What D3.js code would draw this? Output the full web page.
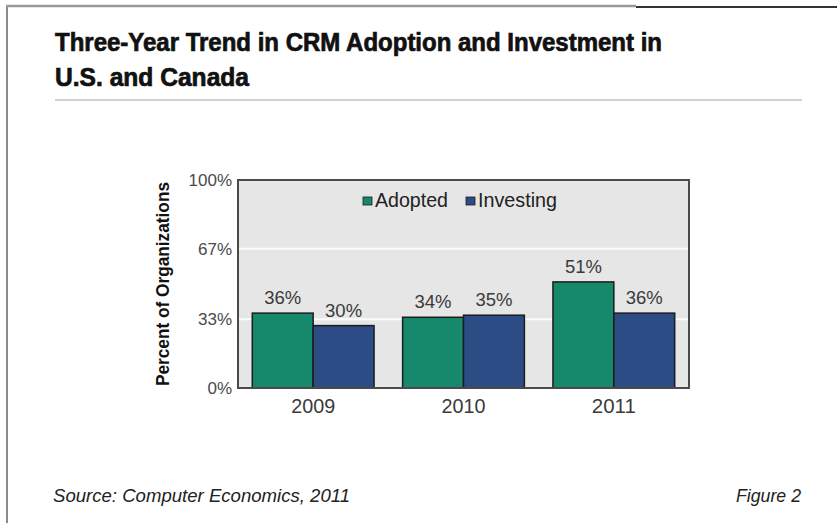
<!DOCTYPE html>
<html>
<head>
<meta charset="utf-8">
<script src="https://cdn.jsdelivr.net/npm/d3@7"></script>
<style>
  html, body { margin: 0; padding: 0; background: #fff; }
  svg { display: block; }
  text { font-family: "Liberation Sans Narrow", "Arial Narrow", "Liberation Sans", sans-serif; }
</style>
</head>
<body>
<svg id="chart" width="837" height="523"></svg>
<script>
// Survey data: share of organizations, by year
const years = ["2009", "2010", "2011"];
const seriesNames = ["Adopted", "Investing"];
const adopted = [36, 34, 51];
const investing = [30, 35, 36];
const yTicks = [0, 33, 67, 100];
const seriesColors = ["#16886b", "#2c4c86"];

const svg = d3.select("#chart");
const W = 837, H = 523;

// Squeeze a text element to a given width (narrow face look)
function fit(sel, w) {
  sel.attr("textLength", w).attr("lengthAdjust", "spacingAndGlyphs");
}

// Outer frame: left rule and top rule
svg.append("line").attr("x1", 7).attr("x2", 7).attr("y1", 6).attr("y2", H)
  .attr("stroke", "#8a8a8a").attr("stroke-width", 2);
svg.append("line").attr("x1", 6).attr("x2", 636).attr("y1", 6).attr("y2", 6)
  .attr("stroke", "#9a9a9a").attr("stroke-width", 2.5);
svg.append("line").attr("x1", 636).attr("x2", W).attr("y1", 7).attr("y2", 7)
  .attr("stroke", "#333").attr("stroke-width", 2);

// Title
const title = svg.append("g").attr("font-weight", "bold").attr("fill", "#111")
  .attr("stroke", "#111").attr("stroke-width", 0.7)
  .attr("font-size", 25);
title.append("text").attr("x", 55).attr("y", 51)
  .call(fit, 607)
  .text("Three-Year Trend in CRM Adoption and Investment in");
title.append("text").attr("x", 55).attr("y", 86)
  .call(fit, 194)
  .text("U.S. and Canada");

svg.append("line").attr("x1", 55).attr("x2", 802).attr("y1", 100).attr("y2", 100)
  .attr("stroke", "#d2d2d2").attr("stroke-width", 2);

// Plot geometry
const plot = { left: 238, right: 689, top: 180, bottom: 388 };

const x0 = d3.scaleBand().domain(years).range([plot.left, plot.right])
  .paddingInner(0.19).paddingOuter(0.095);
const x1 = d3.scaleBand().domain(seriesNames).range([0, x0.bandwidth()]);
const y = d3.scaleLinear().domain([0, 100]).range([plot.bottom, plot.top]);

// Plot background
svg.append("rect").attr("x", plot.left).attr("y", plot.top)
  .attr("width", plot.right - plot.left).attr("height", plot.bottom - plot.top)
  .attr("fill", "#e6e6e6");

// Gridlines
svg.append("g").selectAll("line").data(yTicks.filter(d => d > 0 && d < 100)).join("line")
  .attr("x1", plot.left).attr("x2", plot.right)
  .attr("y1", d => y(d)).attr("y2", d => y(d))
  .attr("stroke", "#fbfbfb").attr("stroke-width", 2);

// Y axis labels
const yAxis = d3.axisLeft(y).tickValues(yTicks).tickSize(0).tickPadding(6)
  .tickFormat(d => d + "%");
const ya = svg.append("g").attr("transform", `translate(${plot.left},0)`).call(yAxis);
ya.select(".domain").remove();
ya.selectAll("text").attr("font-size", 17).attr("fill", "#4a4a4a")
  .style("font-family", "'Liberation Sans Narrow', 'Arial Narrow', 'Liberation Sans', sans-serif");

// X axis labels
const xAxis = d3.axisBottom(x0).tickSize(0).tickPadding(10);
const xa = svg.append("g").attr("transform", `translate(0,${plot.bottom})`).call(xAxis);
xa.select(".domain").remove();
xa.selectAll("text").attr("font-size", 21).attr("fill", "#3a3a3a")
  .style("font-family", "'Liberation Sans Narrow', 'Arial Narrow', 'Liberation Sans', sans-serif")
  .call(fit, 44);

// Y axis title
svg.append("text")
  .attr("transform", `translate(169,${(plot.top + plot.bottom) / 2}) rotate(-90)`)
  .attr("text-anchor", "middle").attr("font-size", 18).attr("font-weight", "bold")
  .attr("fill", "#111").call(fit, 204).text("Percent of Organizations");

// Bars
const rows = years.map((yr, i) => ({ year: yr, values: [adopted[i], investing[i]] }));
const groups = svg.append("g").selectAll("g").data(rows).join("g")
  .attr("transform", d => `translate(${x0(d.year)},0)`);

groups.selectAll("rect").data(d => d.values.map((v, j) => ({ key: seriesNames[j], v, j })))
  .join("rect")
  .attr("x", d => x1(d.key)).attr("width", x1.bandwidth())
  .attr("y", d => y(d.v)).attr("height", d => y(0) - y(d.v))
  .attr("fill", d => seriesColors[d.j])
  .attr("stroke", "#1c1c1c").attr("stroke-width", 1.5);

groups.selectAll("text.val").data(d => d.values.map((v, j) => ({ key: seriesNames[j], v })))
  .join("text").attr("class", "val")
  .attr("x", d => x1(d.key) + x1.bandwidth() / 2)
  .attr("y", d => y(d.v) - 9)
  .attr("text-anchor", "middle").attr("font-size", 19).attr("fill", "#3a3a3a")
  .call(fit, 37)
  .text(d => d.v + "%");

// Plot border
svg.append("rect").attr("x", plot.left).attr("y", plot.top)
  .attr("width", plot.right - plot.left).attr("height", plot.bottom - plot.top)
  .attr("fill", "none").attr("stroke", "#4a4a4a").attr("stroke-width", 2);

// Legend
const legendX = [363, 466];
const legendW = [73, 79];
const legend = svg.append("g").selectAll("g").data(seriesNames).join("g")
  .attr("transform", (d, i) => `translate(${legendX[i]},197)`);
legend.append("rect").attr("width", 9).attr("height", 8)
  .attr("fill", (d, i) => seriesColors[i]).attr("stroke", "#1c1c1c").attr("stroke-width", 0.8);
legend.append("text").attr("x", 12).attr("y", 10).attr("font-size", 21)
  .attr("fill", "#222")
  .each(function (d, i) { d3.select(this).call(fit, legendW[i]); })
  .text(d => d);

// Footer
svg.append("text").attr("x", 53).attr("y", 502).attr("font-size", 19)
  .attr("font-style", "italic").attr("fill", "#222")
  .call(fit, 297)
  .text("Source: Computer Economics, 2011");
svg.append("text").attr("x", 801).attr("y", 502).attr("font-size", 19)
  .attr("font-style", "italic").attr("fill", "#222").attr("text-anchor", "end")
  .call(fit, 65)
  .text("Figure 2");
</script>
</body>
</html>
